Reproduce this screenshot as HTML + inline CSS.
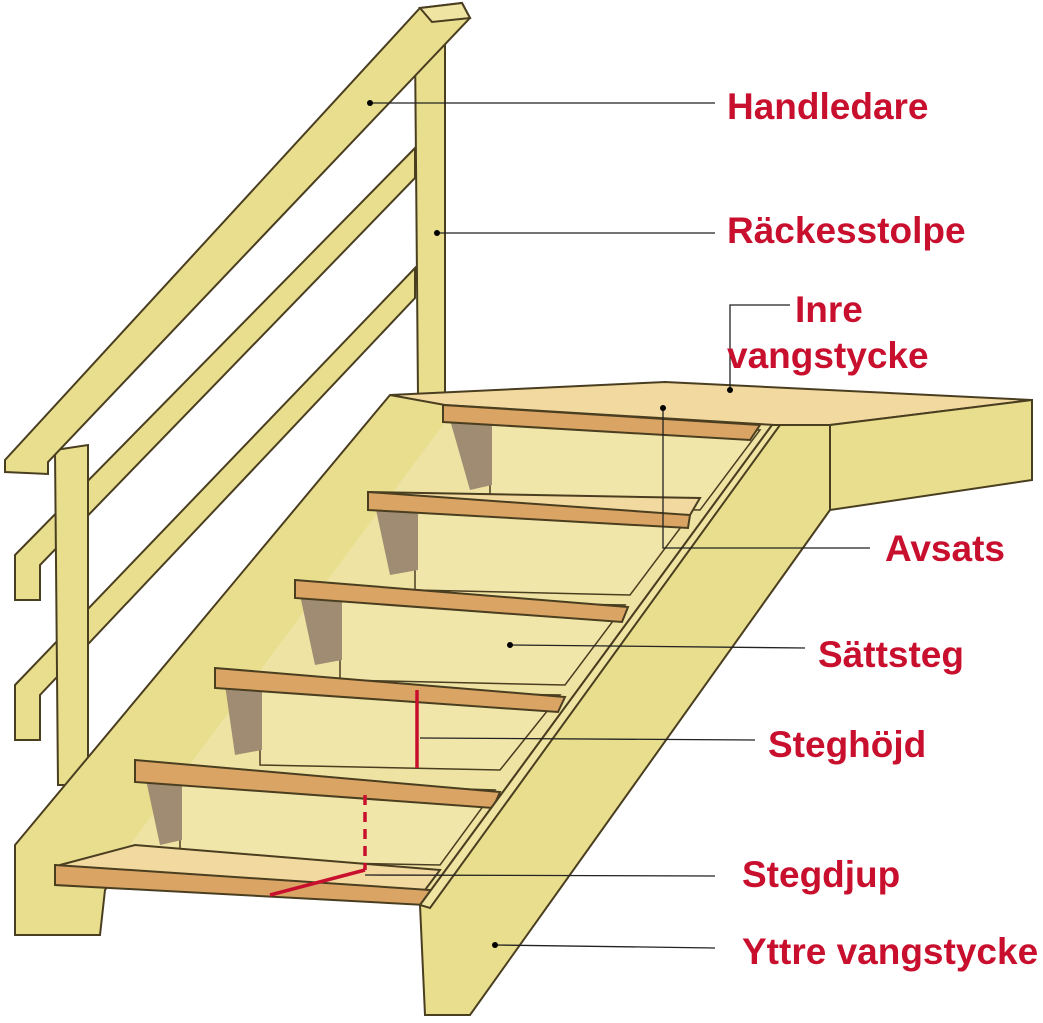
<!DOCTYPE html>
<html><head><meta charset="utf-8"><style>
html,body{margin:0;padding:0;background:#fff;}
svg{display:block;}
.l{font-family:"Liberation Sans",sans-serif;font-weight:bold;font-size:37px;fill:#c8102e;}
.ld{stroke:#222;stroke-width:1.3;fill:none;}
.w{fill:#e9de8e;stroke:#4a3e20;stroke-width:2;}
.wl{fill:#efe4a2;stroke:#4a3e20;stroke-width:2;}
.t{fill:#f2d9a0;stroke:#4a3e20;stroke-width:2;}
.e{fill:#d9a464;stroke:#4a3e20;stroke-width:2;}
.r{fill:#f1e6aa;stroke:#4a3e20;stroke-width:1.5;}
.s{fill:#a08c72;}
</style></head><body>
<svg width="1043" height="1023" viewBox="0 0 1043 1023" xmlns="http://www.w3.org/2000/svg">
<polygon class="w" points="15,555 415,148 415,178 40,565 40,600 15,600"/>
<polygon class="w" points="15,685 415,268 415,298 40,695 40,740 15,740"/>
<polygon class="w" points="415,45 445,45 445,397 418,397"/>
<polygon class="w" points="55,450 88,445 88,785 58,785"/>
<polygon class="w" points="420,8 462,3 470,18 48,462 48,474 5,472 5,460"/>
<polygon class="wl" points="420,8 462,3 470,18 432,22"/>
<polygon class="w" points="15,845 390,395 445,402 445,430 105,890 100,935 15,935"/>
<polygon fill="#efe3a4" points="443,405 778,425 430,905 100,885 443,425"/>
<polygon class="t" points="390,395 665,382 1032,400 830,425 775,425 445,405"/>
<polygon class="w" points="830,425 1032,400 1032,480 830,510"/>
<polygon class="r" points="490,425 760,430 700,510 490,505"/>
<polygon class="s" points="450,420 492,425 492,485 470,490"/>
<polygon class="e" points="443,405 760,425 750,440 443,422"/>
<polygon class="r" points="415,510 690,515 630,595 415,590"/>
<polygon class="s" points="375,505 418,510 418,570 390,575"/>
<polygon class="t" points="368,492 700,498 690,515 368,508"/>
<polygon class="e" points="368,492 690,515 688,528 368,510"/>
<polygon class="r" points="340,600 625,605 565,685 340,680"/>
<polygon class="s" points="300,595 342,600 342,660 315,665"/>
<polygon class="e" points="295,580 628,607 622,622 295,598"/>
<polygon class="r" points="260,690 560,695 500,770 260,765"/>
<polygon class="s" points="225,685 262,690 262,750 235,755"/>
<polygon class="e" points="215,668 565,697 558,712 215,688"/>
<polygon class="r" points="180,780 495,790 440,865 180,860"/>
<polygon class="s" points="145,775 182,780 182,840 160,845"/>
<polygon class="e" points="135,760 500,792 493,808 135,782"/>
<polygon class="t" points="60,865 135,845 440,870 425,890 60,875"/>
<polygon class="e" points="55,865 430,890 425,905 55,885"/>
<polygon class="w" points="420,905 772,425 830,425 830,510 470,1015 425,1015"/>
<polygon class="wl" points="420,905 772,425 780,425 430,908"/>
<line x1="417" y1="690" x2="417" y2="768" stroke="#c8102e" stroke-width="3.5"/>
<line x1="365" y1="795" x2="365" y2="870" stroke="#c8102e" stroke-width="3.5" stroke-dasharray="10,7"/>
<line x1="270" y1="895" x2="365" y2="870" stroke="#c8102e" stroke-width="3.5"/>
<path class="ld" d="M370,103 H715"/><circle cx="370" cy="103" r="3"/>
<path class="ld" d="M437,233 H715"/><circle cx="437" cy="233" r="3"/>
<path class="ld" d="M730,390 V305 H790"/><circle cx="730" cy="390" r="3"/>
<path class="ld" d="M663,408 V548 H870"/><circle cx="663" cy="408" r="3"/>
<path class="ld" d="M510,645 L805,648"/><circle cx="510" cy="645" r="3"/>
<path class="ld" d="M420,738 L755,740"/>
<path class="ld" d="M365,875 L715,876"/>
<path class="ld" d="M495,945 L715,948"/><circle cx="495" cy="945" r="3"/>
<text class="l" x="727" y="119">Handledare</text>
<text class="l" x="727" y="243">Räckesstolpe</text>
<text class="l" x="795" y="322">Inre</text>
<text class="l" x="727" y="368">vangstycke</text>
<text class="l" x="885" y="561">Avsats</text>
<text class="l" x="818" y="667">Sättsteg</text>
<text class="l" x="768" y="757">Steghöjd</text>
<text class="l" x="742" y="887">Stegdjup</text>
<text class="l" x="742" y="964">Yttre vangstycke</text>
</svg>
</body></html>
